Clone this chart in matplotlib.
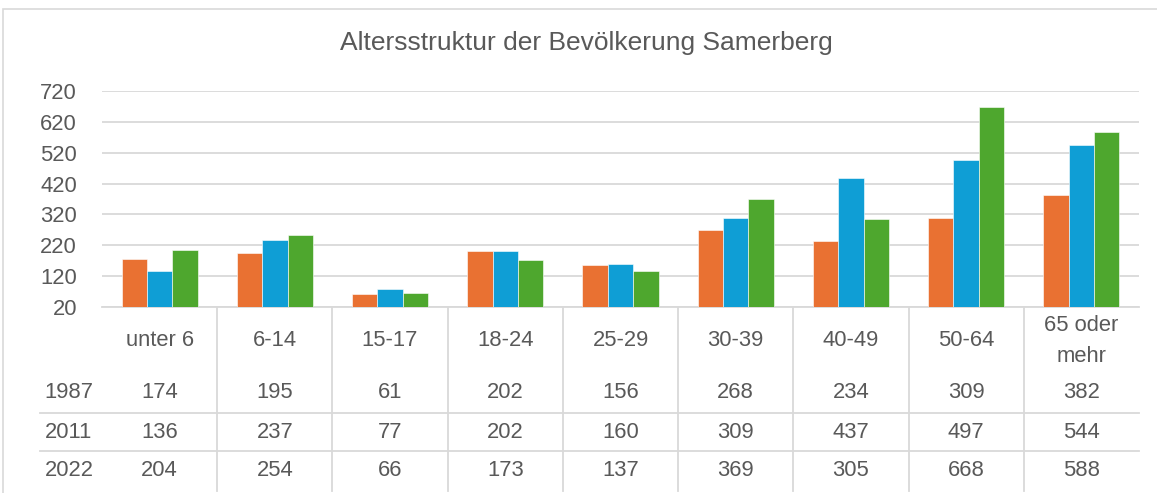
import matplotlib
matplotlib.use("Agg")
import matplotlib.pyplot as plt
from matplotlib.patches import Rectangle
import numpy as np

plt.rcParams['font.family'] = ['Liberation Sans', 'DejaVu Sans']

categories = ['unter 6', '6-14', '15-17', '18-24', '25-29', '30-39', '40-49', '50-64', '65 oder\nmehr']
years = ['1987', '2011', '2022']
v1987 = [174, 195, 61, 202, 156, 268, 234, 309, 382]
v2011 = [136, 237, 77, 202, 160, 309, 437, 497, 544]
v2022 = [204, 254, 66, 173, 137, 369, 305, 668, 588]
series = [v1987, v2011, v2022]
colors = ['#E97132', '#0F9ED5', '#4EA72E']
yticks = [20, 120, 220, 320, 420, 520, 620, 720]

text_c = '#595959'
line_c = '#D9D9D9'
fs = 15.8

W, H = 1157, 493
fig = plt.figure(figsize=(W / 100, H / 100), dpi=100)

# chart border (only left and top edges fall inside the picture)
fig.patches.append(Rectangle((3 / W, -0.05), 1.2, (H - 9.5) / H + 0.05,
                             transform=fig.transFigure, fill=False,
                             edgecolor=line_c, linewidth=1.2))

fig.text(586 / W, 1 - 43 / H, 'Altersstruktur der Bevölkerung Samerberg',
         ha='center', va='center', fontsize=19, color=text_c)

left, right, top, bottom = 102, 1139, 91, 307
ax = fig.add_axes([left / W, 1 - bottom / H, (right - left) / W, (bottom - top) / H])

x = np.arange(len(categories))
bw = 0.22
for i, vals in enumerate(series):
    base = 20
    ax.bar(x + (i - 1) * bw, np.array(vals) - base, bottom=base, width=bw,
           color=colors[i], edgecolor='white', linewidth=0.4, zorder=3)

ax.set_xlim(-0.5, len(categories) - 0.5)
ax.set_ylim(20, 720)
ax.set_yticks(yticks)
ax.set_yticklabels([str(t) for t in yticks])
ax.tick_params(axis='y', length=0, pad=18, labelsize=fs, labelcolor=text_c)
ax.set_xticks([])
ax.grid(axis='y', color=line_c, linewidth=1.3, zorder=0)
for s in ['top', 'right', 'left', 'bottom']:
    ax.spines[s].set_visible(False)
ax.axhline(20, color=line_c, linewidth=1.3, zorder=2, clip_on=False)

# data table below the axis
ph = bottom - top
def fy(py):
    return (bottom - py) / ph

tr = ax.get_xaxis_transform()
tbl_bottom = fy(491)
for b in np.arange(0.5, len(categories) - 0.5, 1):
    ax.plot([b, b], [0, tbl_bottom], transform=tr, color=line_c,
            linewidth=1.3, clip_on=False)

xl = -0.5 - (left - 40) / ((right - left) / len(categories))
for py in [413, 451]:
    ax.plot([xl, len(categories) - 0.5], [fy(py), fy(py)], transform=tr,
            color=line_c, linewidth=1.3, clip_on=False)

for xi, c in zip(x, categories):
    ax.text(xi, fy(341), c, transform=tr, ha='center', va='center',
            fontsize=fs, color=text_c, linespacing=1.65)

xr = -0.5 - (left - 69) / ((right - left) / len(categories))
for yr, vals, py in zip(years, series, [393, 432, 470]):
    ax.text(xr, fy(py), yr, transform=tr, ha='center', va='center',
            fontsize=fs, color=text_c)
    for xi, v in zip(x, vals):
        ax.text(xi, fy(py), str(v), transform=tr, ha='center', va='center',
                fontsize=fs, color=text_c)

fig.savefig('out.png', dpi=100)
